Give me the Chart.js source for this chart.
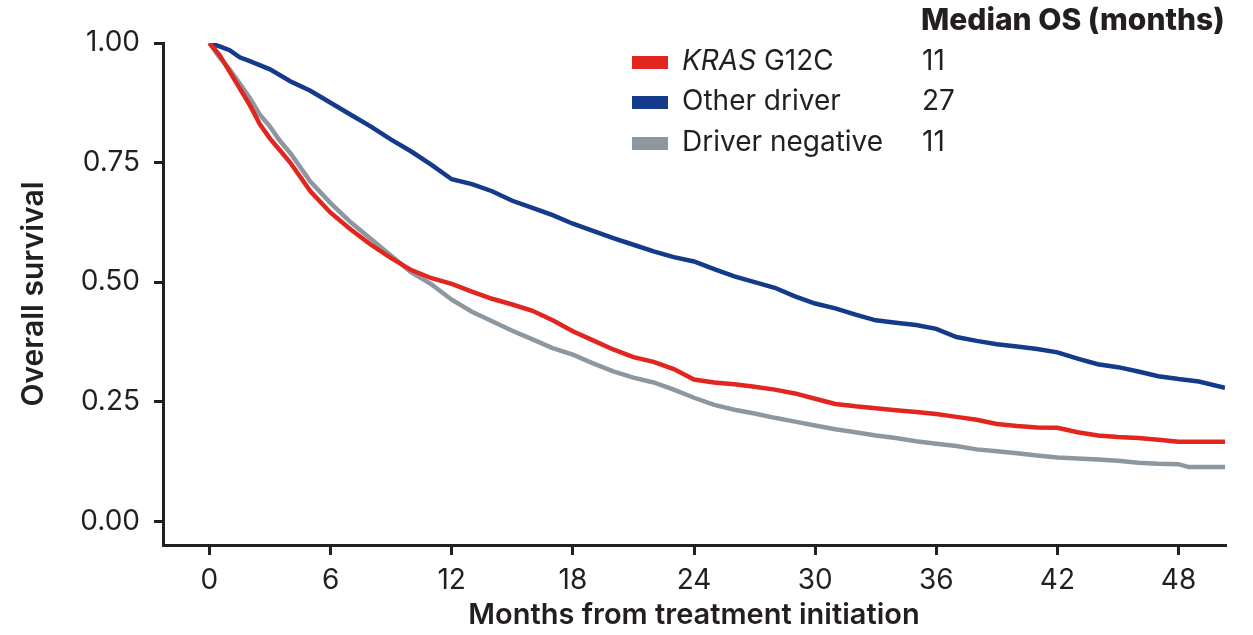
<!DOCTYPE html>
<html>
<head>
<meta charset="utf-8">
<script src="https://cdn.jsdelivr.net/npm/chart.js@4.4.1/dist/chart.umd.min.js"></script>
<style>
  html, body { margin: 0; padding: 0; background: #fff; }
  #wrap { width: 1253px; height: 635px; position: relative; }
</style>
</head>
<body>
<div id="wrap"><canvas id="myChart" width="1253" height="635"></canvas></div>
<script>
//DATOS
const xTicks = [0, 6, 12, 18, 24, 30, 36, 42, 48];
const yTicks = [0, 0.25, 0.5, 0.75, 1];

const seriesNames = ["KRAS G12C", "Other driver", "Driver negative"];
const medianOS = ["11", "27", "11"];
const seriesColors = ["#e0261e", "#133a8b", "#8d979f"];

const monthsKras = [0, 0.5, 1, 1.5, 2, 2.5, 3, 3.5, 4, 5, 6, 7, 8, 9, 10, 11, 12, 13, 14, 15, 16, 17, 18, 19, 20, 21, 22, 23, 24, 25, 26, 27, 28, 29, 30, 31, 32, 33, 34, 35, 36, 37, 38, 39, 40, 41, 42, 43, 44, 45, 46, 47, 48, 49, 50.3];
const survKras = [1, 0.975, 0.94, 0.905, 0.87, 0.83, 0.8, 0.775, 0.75, 0.69, 0.645, 0.61, 0.578, 0.55, 0.525, 0.508, 0.496, 0.48, 0.465, 0.453, 0.44, 0.42, 0.397, 0.378, 0.359, 0.343, 0.333, 0.318, 0.296, 0.29, 0.286, 0.281, 0.275, 0.267, 0.256, 0.245, 0.24, 0.236, 0.232, 0.228, 0.224, 0.218, 0.212, 0.203, 0.199, 0.196, 0.195, 0.186, 0.179, 0.176, 0.174, 0.17, 0.166, 0.166, 0.166];

const monthsOther = [0, 0.5, 1, 1.5, 2, 3, 4, 5, 6, 7, 8, 9, 10, 11, 12, 13, 14, 15, 16, 17, 18, 19, 20, 21, 22, 23, 24, 25, 26, 27, 28, 29, 30, 31, 32, 33, 34, 35, 36, 37, 38, 39, 40, 41, 42, 43, 44, 45, 46, 47, 48, 49, 50.3];
const survOther = [1, 0.993, 0.985, 0.97, 0.962, 0.945, 0.92, 0.9, 0.875, 0.85, 0.825, 0.798, 0.773, 0.745, 0.715, 0.705, 0.69, 0.67, 0.655, 0.64, 0.622, 0.607, 0.592, 0.578, 0.564, 0.552, 0.543, 0.527, 0.512, 0.5, 0.488, 0.47, 0.455, 0.445, 0.432, 0.42, 0.415, 0.41, 0.402, 0.385, 0.377, 0.37, 0.365, 0.36, 0.353, 0.34, 0.328, 0.322, 0.313, 0.303, 0.297, 0.292, 0.279];

const monthsNeg = [0, 0.5, 1, 1.5, 2, 2.5, 3, 3.5, 4, 5, 6, 7, 8, 9, 10, 11, 12, 13, 14, 15, 16, 17, 18, 19, 20, 21, 22, 23, 24, 25, 26, 27, 28, 29, 30, 31, 32, 33, 34, 35, 36, 37, 38, 39, 40, 41, 42, 43, 44, 45, 46, 47, 48, 48.5, 50.3];
const survNeg = [1, 0.97, 0.945, 0.915, 0.885, 0.85, 0.825, 0.795, 0.77, 0.71, 0.665, 0.625, 0.59, 0.555, 0.52, 0.495, 0.463, 0.438, 0.418, 0.398, 0.38, 0.362, 0.348, 0.33, 0.313, 0.3, 0.29, 0.275, 0.258, 0.243, 0.233, 0.225, 0.216, 0.208, 0.2, 0.192, 0.186, 0.179, 0.174, 0.167, 0.162, 0.157, 0.15, 0.146, 0.142, 0.137, 0.133, 0.131, 0.129, 0.126, 0.122, 0.12, 0.119, 0.113, 0.113];

//FUNCIONES
function puntos(xs, ys) {
  return xs.map((x, i) => ({ x: x, y: ys[i] }));
}

const FONT = "Inter, 'Liberation Sans', sans-serif";
const INK = "#231f20";

const leyendaPlugin = {
  id: "leyendaOS",
  afterDraw(chart) {
    const ctx = chart.ctx;
    ctx.save();
    ctx.textBaseline = "middle";
    ctx.fillStyle = INK;
    ctx.font = "800 30px " + FONT;
    ctx.textAlign = "left";
    ctx.fillText("Median OS (months)", 921, 21);
    const rows = [62, 102, 143];
    chart.data.datasets.forEach((ds, i) => {
      const y = rows[i];
      ctx.fillStyle = ds.borderColor;
      ctx.fillRect(632, y - 6, 36, 13);
      ctx.fillStyle = INK;
      let x = 682;
      if (ds.label.startsWith("KRAS")) {
        ctx.font = "italic 400 28px " + FONT;
        ctx.fillText("KRAS", x, y);
        x += ctx.measureText("KRAS ").width;
        ctx.font = "400 28px " + FONT;
        ctx.fillText(ds.label.slice(5), x, y);
      } else {
        ctx.font = "400 28px " + FONT;
        ctx.fillText(ds.label, x, y);
      }
      ctx.fillText(medianOS[i], 922, y);
    });
    ctx.restore();
  },
};

const data = {
  datasets: [
    { label: seriesNames[0], data: puntos(monthsKras, survKras), borderColor: seriesColors[0], order: 1 },
    { label: seriesNames[1], data: puntos(monthsOther, survOther), borderColor: seriesColors[1], order: 2 },
    { label: seriesNames[2], data: puntos(monthsNeg, survNeg), borderColor: seriesColors[2], order: 3 },
  ].map((d) => Object.assign(d, { borderWidth: 4.5, pointRadius: 0, tension: 0, fill: false })),
};

const config = {
  type: "line",
  data: data,
  plugins: [leyendaPlugin],
  options: {
    responsive: false,
    animation: false,
    layout: { padding: { top: 43, right: 28, left: 0, bottom: 0 } },
    plugins: { legend: { display: false }, tooltip: { enabled: false } },
    scales: {
      x: {
        type: "linear",
        min: -2.3,
        max: 50.3,
        afterBuildTicks: (s) => { s.ticks = xTicks.map((v) => ({ value: v })); },
        afterFit: (s) => { s.height = 90; },
        border: { display: true, color: INK, width: 3 },
        grid: { drawOnChartArea: false, drawTicks: true, tickLength: 10, color: INK, lineWidth: 3 },
        ticks: { color: INK, font: { family: FONT, size: 28 }, padding: 9, maxRotation: 0 },
        title: { display: true, text: "Months from treatment initiation", color: INK, font: { family: FONT, size: 29, weight: 600 }, padding: { top: 0, bottom: 2 } },
      },
      y: {
        type: "linear",
        min: -0.05,
        max: 1,
        afterBuildTicks: (s) => { s.ticks = yTicks.map((v) => ({ value: v })); },
        afterFit: (s) => { s.width = 163; },
        border: { display: true, color: INK, width: 3 },
        grid: { drawOnChartArea: false, drawTicks: true, tickLength: 9, color: INK, lineWidth: 3 },
        ticks: { color: INK, font: { family: FONT, size: 28 }, padding: 14, callback: (v) => v.toFixed(2) },
        title: { display: true, text: "Overall survival", color: INK, font: { family: FONT, size: 30, weight: 600 }, padding: { top: 16, bottom: 0 } },
      },
    },
  },
};

const myChart = new Chart(document.getElementById("myChart"), config);
</script>
</body>
</html>
